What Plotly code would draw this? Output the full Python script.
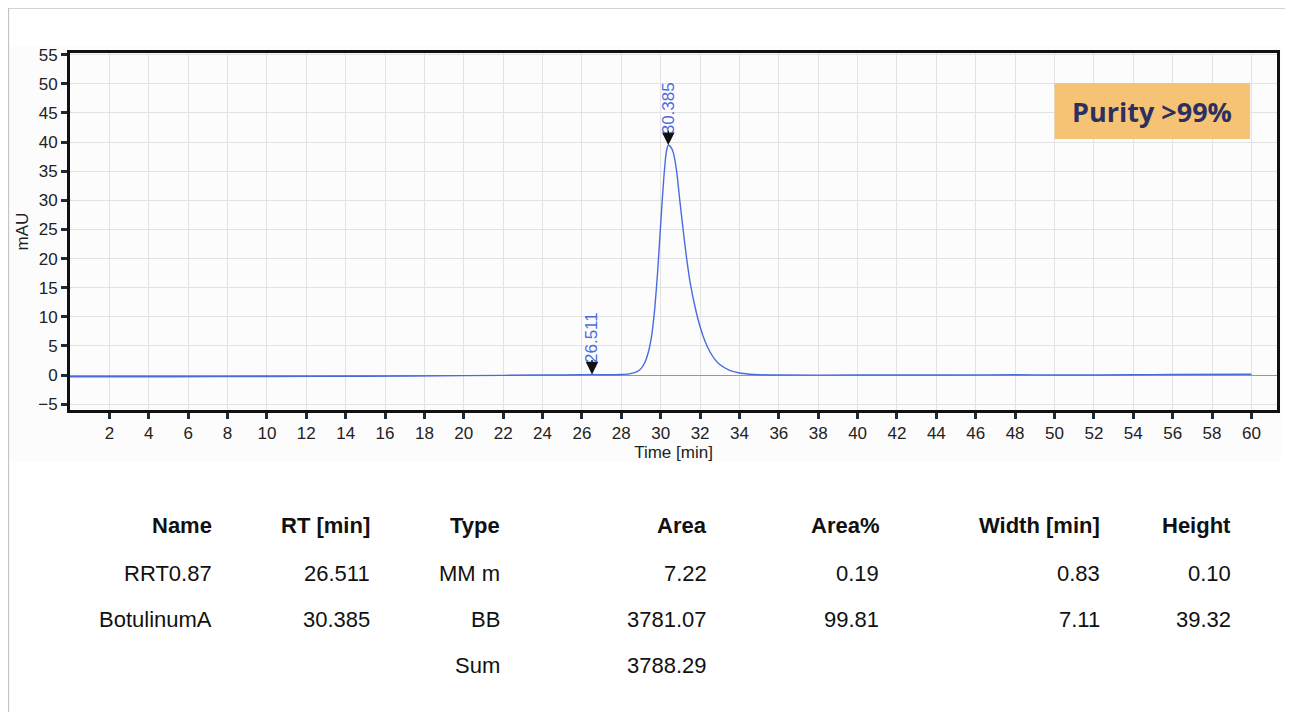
import plotly.graph_objects as go

# ---- chromatogram trace ----
time_min = [0, 5, 10, 15, 20, 24, 26, 26.5, 27, 28, 28.4, 28.8, 29.0, 29.2, 29.4, 29.55, 29.7, 29.85,
            30.0, 30.15, 30.28, 30.39, 30.5, 30.64, 30.81, 30.97, 31.14, 31.31, 31.5, 31.75,
            32.0, 32.25, 32.5, 32.75, 33.0, 33.5, 34.0, 34.5, 35.0, 36, 40, 45, 48, 50, 54, 56, 60]
mau = [-0.3, -0.3, -0.25, -0.2, -0.1, 0.0, 0.05, 0.1, 0.05, 0.1, 0.2, 0.6, 1.1, 2.2, 4.3, 7.0, 11.5, 18.0,
       26.0, 33.5, 38.2, 39.5, 39.2, 38.2, 35.0, 30.0, 24.9, 20.2, 15.8, 11.6,
       8.3, 5.8, 4.0, 2.7, 1.8, 0.8, 0.35, 0.15, 0.05, 0.0, 0.0, 0.0, 0.05, 0.0, 0.05, 0.1, 0.15]

# ---- peak labels ----
peak_rt = [26.511, 30.385]
peak_height = [0.1, 39.5]
peak_label = ["26.511", "30.385"]

# ---- table ----
col_headers = ["Name", "RT [min]", "Type", "Area", "Area%", "Width [min]", "Height"]
row_names = ["RRT0.87", "BotulinumA"]
row_rt = ["26.511", "30.385"]
row_type = ["MM m", "BB"]
row_area = ["7.22", "3781.07"]
row_area_pct = ["0.19", "99.81"]
row_width = ["0.83", "7.11"]
row_height = ["0.10", "39.32"]
sum_label = "Sum"
sum_area = "3788.29"

x_ticks = list(range(2, 61, 2))
y_ticks = list(range(-5, 56, 5))

OFF = 8  # browser body margin
W, H = 1277, 704
L = 70 - OFF
T = 53 - OFF
R = W - (1280 - OFF)
B = H - (410 - OFF)
pw, ph = W - L - R, H - T - B

def px2x(px):
    return (px - OFF - L) / pw

def py2y(py):
    return (H - B - (py - OFF)) / ph

fig = go.Figure()
fig.add_trace(go.Scatter(x=time_min, y=mau, mode="lines",
                         line=dict(color="#4a6be0", width=1.4, shape="spline", smoothing=0.5),
                         hoverinfo="skip", showlegend=False))

FONT = "Liberation Sans, Arial, sans-serif"
annotations = []
for rt, h, lab in zip(peak_rt, peak_height, peak_label):
    # marker arrow
    annotations.append(dict(x=rt, y=h, xref="x", yref="y", text="", showarrow=True,
                            arrowhead=2, arrowsize=1.8, arrowwidth=1.4, arrowcolor="#111111",
                            ax=0, ay=-16))
    # rotated label above the marker
    annotations.append(dict(x=rt, y=h, xref="x", yref="y", text=lab, showarrow=False,
                            textangle=-90, xanchor="center", yanchor="bottom", yshift=9,
                            font=dict(family=FONT, size=17, color="#4a6be0")))

# Purity box text
annotations.append(dict(x=px2x(1155), y=py2y(111), xref="paper", yref="paper",
                        text="<b>Purity >99%</b>", showarrow=False, xanchor="center", yanchor="middle",
                        font=dict(family="Open Sans, sans-serif", size=27, color="#2c3060")))

TFS = 22
col_right = [214, 373, 503, 711, 883, 1105, 1236]
rows_py = [525, 573, 619, 665]
for cx, txt in zip(col_right, col_headers):
    annotations.append(dict(x=px2x(cx), y=py2y(rows_py[0]), xref="paper", yref="paper",
                            text="<b>" + txt + "</b>", showarrow=False, xanchor="right", yanchor="middle",
                            font=dict(family=FONT, size=TFS, color="#111111")))
cols = [row_names, row_rt, row_type, row_area, row_area_pct, row_width, row_height]
for ri in range(2):
    for cx, col in zip(col_right, cols):
        annotations.append(dict(x=px2x(cx), y=py2y(rows_py[ri + 1]), xref="paper", yref="paper",
                                text=col[ri], showarrow=False, xanchor="right", yanchor="middle",
                                font=dict(family=FONT, size=TFS, color="#111111")))
annotations.append(dict(x=px2x(col_right[2]), y=py2y(rows_py[3]), xref="paper", yref="paper",
                        text=sum_label, showarrow=False, xanchor="right", yanchor="middle",
                        font=dict(family=FONT, size=TFS, color="#111111")))
annotations.append(dict(x=px2x(col_right[3]), y=py2y(rows_py[3]), xref="paper", yref="paper",
                        text=sum_area, showarrow=False, xanchor="right", yanchor="middle",
                        font=dict(family=FONT, size=TFS, color="#111111")))

shapes = [
    dict(type="rect", xref="paper", yref="paper", x0=px2x(10), x1=px2x(1284), y0=py2y(462), y1=py2y(46),
         fillcolor="#fcfcfc", line=dict(width=0), layer="below"),
    dict(type="line", xref="paper", yref="paper", x0=px2x(8), x1=px2x(8), y0=py2y(8), y1=py2y(720),
         line=dict(color="#c4c4c4", width=2)),
    dict(type="line", xref="paper", yref="paper", x0=px2x(8), x1=px2x(1293), y0=py2y(8), y1=py2y(8),
         line=dict(color="#c4c4c4", width=1.5)),
    dict(type="rect", xref="paper", yref="paper", x0=px2x(1057), x1=px2x(1253), y0=py2y(139), y1=py2y(83),
         fillcolor="#f6c375", line=dict(width=0)),
]

fig.update_layout(
    width=W, height=H, margin=dict(l=L, r=R, t=T, b=B),
    paper_bgcolor="white", plot_bgcolor="white",
    font=dict(family=FONT, size=17, color="#222222"),
    annotations=annotations, shapes=shapes, showlegend=False,
    xaxis=dict(range=[0, 61.3], tickvals=x_ticks, ticks="outside", ticklen=6, tickwidth=3,
               tickcolor="#1c2b3a", showline=True, linewidth=3, linecolor="#111111", mirror=True,
               showgrid=True, gridcolor="#e2e2e2", gridwidth=1, zeroline=False,
               tickfont=dict(family=FONT, size=17, color="#222222"),
               title=dict(text="Time [min]", font=dict(family=FONT, size=17, color="#222222"), standoff=2)),
    yaxis=dict(range=[-6.0, 55.3], tickvals=y_ticks, ticks="outside", ticklen=6, tickwidth=3,
               tickcolor="#1c2b3a", showline=True, linewidth=3, linecolor="#111111", mirror=True,
               showgrid=True, gridcolor="#e2e2e2", gridwidth=1,
               zeroline=True, zerolinecolor="#7b96e6", zerolinewidth=1,
               tickfont=dict(family=FONT, size=17, color="#222222"),
               title=dict(text="mAU", font=dict(family=FONT, size=17, color="#222222"), standoff=6)),
)

fig.write_html("out.html")
